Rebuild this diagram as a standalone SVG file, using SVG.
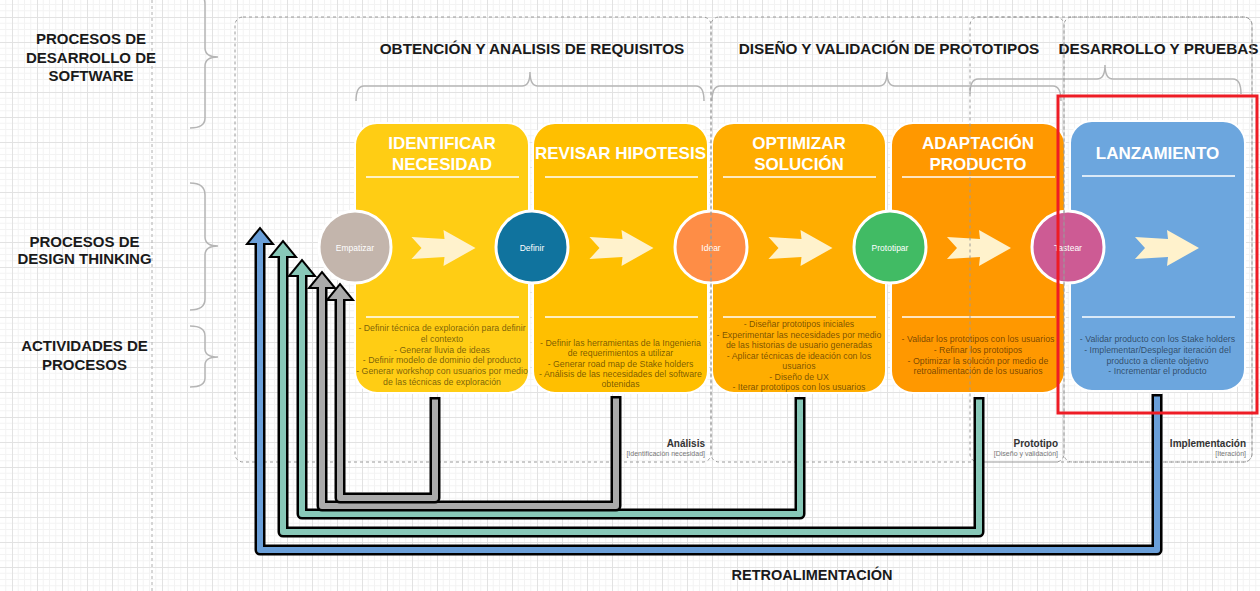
<svg xmlns="http://www.w3.org/2000/svg" width="1260" height="591" viewBox="0 0 1260 591">
<defs>
<pattern id="grid" width="25" height="25" patternUnits="userSpaceOnUse" x="12" y="17">
<path d="M6.25 0V25M12.5 0V25M18.75 0V25M0 6.25H25M0 12.5H25M0 18.75H25" stroke="#f3f3f3" stroke-width="1" fill="none"/>
<path d="M0.5 0V25M0 0.5H25" stroke="#e2e2e2" stroke-width="1" fill="none"/>
</pattern>
<polygon id="chev" points="-32,-11 -22,0 -32,11 1,9 0,18 32,0 0,-18 1,-9" fill="#fff2cc"/>
</defs>
<style>
.lbl{font-family:"Liberation Sans",Arial,sans-serif;font-weight:bold;font-size:15px;fill:#1a1a1a;text-anchor:middle}
.ttl{font-family:"Liberation Sans",Arial,sans-serif;font-weight:bold;font-size:17px;fill:#ffffff;text-anchor:middle}
.act{font-family:"Liberation Sans",Arial,sans-serif;font-size:8.8px;fill:#000;fill-opacity:0.55;text-anchor:middle}
.cir{font-family:"Liberation Sans",Arial,sans-serif;font-size:8.5px;fill:#ffffff;text-anchor:middle}
.card{stroke:#ffffff;stroke-width:2}
.div{stroke:#ffffff;stroke-width:1.5}
.dot{stroke:#ffffff;stroke-width:3}
.brace{fill:none;stroke:#b5b5b5;stroke-width:1.5}
.cont{fill:none;stroke:#9a9a9a;stroke-width:1;stroke-dasharray:3 3}
.clab{font-family:"Liberation Sans",Arial,sans-serif;font-weight:bold;font-size:10px;fill:#333;text-anchor:end}
.csub{font-family:"Liberation Sans",Arial,sans-serif;font-size:7px;fill:#777;text-anchor:end}
.fo{fill:none;stroke:#000;stroke-width:11;stroke-linejoin:round}
.head{stroke:#000;stroke-width:2;stroke-linejoin:miter}
</style>
<rect width="1260" height="591" fill="#ffffff"/>
<rect width="1260" height="591" fill="url(#grid)"/>
<line x1="152" y1="0" x2="152" y2="591" stroke="#b0b0b0" stroke-width="1" stroke-dasharray="3 3"/>

<g id="row-labels">
<text class="lbl" x="91" y="43.5">PROCESOS DE</text>
<text class="lbl" x="91" y="62.5">DESARROLLO DE</text>
<text class="lbl" x="91" y="80.5">SOFTWARE</text>
<text class="lbl" x="84.5" y="246.5">PROCESOS DE</text>
<text class="lbl" x="84.5" y="263.5">DESIGN THINKING</text>
<text class="lbl" x="84.5" y="350.5">ACTIVIDADES DE</text>
<text class="lbl" x="84.5" y="369.5">PROCESOS</text>
</g>

<g id="braces">
<path class="brace" d="M190,-8 Q205,-8 205,4 L205,48 Q205,57 218,57 Q205,57 205,66 L205,118 Q205,128 190,128"/>
<path class="brace" d="M190,183 Q205,183 205,195 L205,237 Q205,246 218,246 Q205,246 205,255 L205,299 Q205,310 190,310"/>
<path class="brace" d="M190,326 Q205,326 205,336 L205,349 Q205,357 218,357 Q205,357 205,365 L205,378 Q205,387 190,387"/>
<path class="brace" d="M356,101 Q356,86 364,86 L522,86 Q530,86 530,72 Q530,86 538,86 L696,86 Q704,86 704,101"/>
<path class="brace" d="M712,101 Q712,86 720,86 L879,86 Q887,86 887,72 Q887,86 895,86 L1053,86 Q1061,86 1061,101"/>
<path class="brace" d="M970,94 Q970,79 978,79 L1097,79 Q1105,79 1105,65 Q1105,79 1113,79 L1233,79 Q1241,79 1241,94"/>
</g>

<g id="phase-headings">
<text class="lbl" x="532" y="53.5" style="font-size:15.3px">OBTENCIÓN Y ANALISIS DE REQUISITOS</text>
<text class="lbl" x="889" y="53.5" style="font-size:15.3px">DISEÑO Y VALIDACIÓN DE PROTOTIPOS</text>
<text class="lbl" x="1158.5" y="53.5" style="font-size:15.3px">DESARROLLO Y PRUEBAS</text>
</g>

<g id="card-identificar">
<rect class="card" x="355" y="123" width="174" height="270" rx="22" fill="#ffcd14"/>
<text class="ttl" x="442" y="149">IDENTIFICAR</text>
<text class="ttl" x="442" y="170">NECESIDAD</text>
<line class="div" x1="366" y1="177" x2="519" y2="177"/>
<line class="div" x1="366" y1="317" x2="519" y2="317"/>
<text class="act" x="442" y="331">- Definir técnica de exploración para definir</text>
<text class="act" x="442" y="341.8">el contexto</text>
<text class="act" x="442" y="352.6">- Generar lluvia de ideas</text>
<text class="act" x="442" y="363.4">- Definir modelo de dominio del producto</text>
<text class="act" x="442" y="374.2">- Generar workshop con usuarios por medio</text>
<text class="act" x="442" y="385">de las técnicas de exploración</text>
</g>

<g id="card-revisar">
<rect class="card" x="533" y="123" width="175" height="270" rx="22" fill="#ffbf00"/>
<text class="ttl" x="620.5" y="159">REVISAR HIPOTESIS</text>
<line class="div" x1="545" y1="177" x2="698" y2="177"/>
<line class="div" x1="545" y1="317" x2="698" y2="317"/>
<text class="act" x="620.5" y="345.7">- Definir las herramientas de la Ingenieria</text>
<text class="act" x="620.5" y="356.1">de requerimientos a utilizar</text>
<text class="act" x="620.5" y="366.7">- Generar road map de Stake holders</text>
<text class="act" x="620.5" y="377.1">- Análisis de las necesidades del software</text>
<text class="act" x="620.5" y="387.4">obtenidas</text>
</g>

<g id="card-optimizar">
<rect class="card" x="712" y="123" width="174" height="270" rx="22" fill="#ffad00"/>
<text class="ttl" x="799" y="149">OPTIMIZAR</text>
<text class="ttl" x="799" y="170">SOLUCIÓN</text>
<line class="div" x1="723" y1="177" x2="876" y2="177"/>
<line class="div" x1="723" y1="317" x2="876" y2="317"/>
<text class="act" x="799" y="327.2">- Diseñar prototipos iniciales</text>
<text class="act" x="799" y="337.7">- Experimentar las necesidades por medio</text>
<text class="act" x="799" y="348.2">de las historias de usuario generadas</text>
<text class="act" x="799" y="358.7">- Aplicar técnicas de ideación con los</text>
<text class="act" x="799" y="369.2">usuarios</text>
<text class="act" x="799" y="379.7">- Diseño de UX</text>
<text class="act" x="799" y="390.2">- Iterar prototipos con los usuarios</text>
</g>

<g id="card-adaptacion">
<rect class="card" x="891" y="123" width="174" height="270" rx="22" fill="#ff9800"/>
<text class="ttl" x="978" y="149">ADAPTACIÓN</text>
<text class="ttl" x="978" y="170">PRODUCTO</text>
<line class="div" x1="902" y1="177" x2="1055" y2="177"/>
<line class="div" x1="902" y1="317" x2="1055" y2="317"/>
<text class="act" x="978" y="342.3">- Validar los prototipos con los usuarios</text>
<text class="act" x="978" y="353">- Refinar los prototipos</text>
<text class="act" x="978" y="363.7">- Optimizar la solución por medio de</text>
<text class="act" x="978" y="374.4">retroalimentación de los usuarios</text>
</g>

<g id="card-lanzamiento">
<rect class="card" x="1070" y="121" width="175" height="270" rx="22" fill="#6ca6de"/>
<text class="ttl" x="1157.5" y="159">LANZAMIENTO</text>
<line class="div" x1="1082" y1="176" x2="1235" y2="176"/>
<line class="div" x1="1082" y1="317" x2="1235" y2="317"/>
<text class="act" x="1157.5" y="342.3">- Validar producto con los Stake holders</text>
<text class="act" x="1157.5" y="353">- Implementar/Desplegar iteración del</text>
<text class="act" x="1157.5" y="363.7">producto a cliente objetivo</text>
<text class="act" x="1157.5" y="374.4">- Incrementar el producto</text>
</g>

<g id="flow-arrows">
<use href="#chev" x="443.5" y="248"/>
<use href="#chev" x="621.5" y="248"/>
<use href="#chev" x="800.5" y="248"/>
<use href="#chev" x="979" y="248"/>
<use href="#chev" x="1167" y="248"/>
</g>

<g id="dt-empatizar">
<circle class="dot" cx="355" cy="247" r="36" fill="#c3b5ac"/>
<text class="cir" x="355" y="250.5">Empatizar</text>
</g>
<g id="dt-definir">
<circle class="dot" cx="532" cy="247" r="36" fill="#10739e"/>
<text class="cir" x="532" y="250.5">Definir</text>
</g>
<g id="dt-idear">
<circle class="dot" cx="711" cy="247" r="36" fill="#fe8d46"/>
<text class="cir" x="711" y="250.5">Idear</text>
</g>
<g id="dt-prototipar">
<circle class="dot" cx="890" cy="247" r="36" fill="#41bb64"/>
<text class="cir" x="890" y="250.5">Prototipar</text>
</g>
<g id="dt-tastear">
<circle class="dot" cx="1068" cy="247" r="36" fill="#cd5b94"/>
<text class="cir" x="1068" y="250.5">Tastear</text>
</g>

<g id="containers">
<rect class="cont" x="235" y="17" width="476" height="445" rx="8"/>
<rect class="cont" x="711" y="17" width="353" height="445" rx="8"/>
<rect class="cont" x="970" y="17" width="282" height="445" rx="8"/>
<rect class="cont" x="1064" y="17" width="188" height="445" rx="8"/>
<text class="clab" x="705" y="446.5">Análisis</text>
<text class="csub" x="705" y="455.5">[Identificación necesidad]</text>
<text class="clab" x="1058" y="446.5">Prototipo</text>
<text class="csub" x="1058" y="455.5">[Diseño y validación]</text>
<text class="clab" x="1246" y="446.5">Implementación</text>
<text class="csub" x="1246" y="455.5">[Iteración]</text>
</g>

<g id="connectors">
<path class="fo" d="M1157,394 V550 H260 V244"/>
<path d="M1157,396.5 V550 H260 V244" fill="none" stroke="#6a9fd9" stroke-width="6" stroke-linejoin="round"/>
<path class="head" d="M263,244 L273,244 L260,228 L247,244 L257,244" fill="#6a9fd9"/>

<path class="fo" d="M979,397 V532 H283 V257"/>
<path d="M979,399.5 V532 H283 V257" fill="none" stroke="#88c8b8" stroke-width="6" stroke-linejoin="round"/>
<path class="head" d="M286,257 L296,257 L283,241 L270,257 L280,257" fill="#88c8b8"/>

<path class="fo" d="M800,397 V514 H302 V276"/>
<path d="M800,399.5 V514 H302 V276" fill="none" stroke="#88c8b8" stroke-width="6" stroke-linejoin="round"/>
<path class="head" d="M305,276 L315,276 L302,260 L289,276 L299,276" fill="#88c8b8"/>

<path class="fo" d="M616,396 V506 H322 V288"/>
<path d="M616,398.5 V506 H322 V288" fill="none" stroke="#aaaaaa" stroke-width="6" stroke-linejoin="round"/>
<path class="head" d="M325,288 L335,288 L322,272 L309,288 L319,288" fill="#aaaaaa"/>

<path class="fo" d="M435,397 V498 H340 V300"/>
<path d="M435,399.5 V498 H340 V300" fill="none" stroke="#aaaaaa" stroke-width="6" stroke-linejoin="round"/>
<path class="head" d="M343,300 L353,300 L340,284 L327,300 L337,300" fill="#aaaaaa"/>
</g>

<g id="feedback-label">
<text class="lbl" x="812" y="580" style="font-size:14.5px">RETROALIMENTACIÓN</text>
</g>

<g id="highlight">
<rect x="1058" y="96" width="199" height="317" fill="none" stroke="#ee1c25" stroke-width="3"/>
</g>
</svg>
